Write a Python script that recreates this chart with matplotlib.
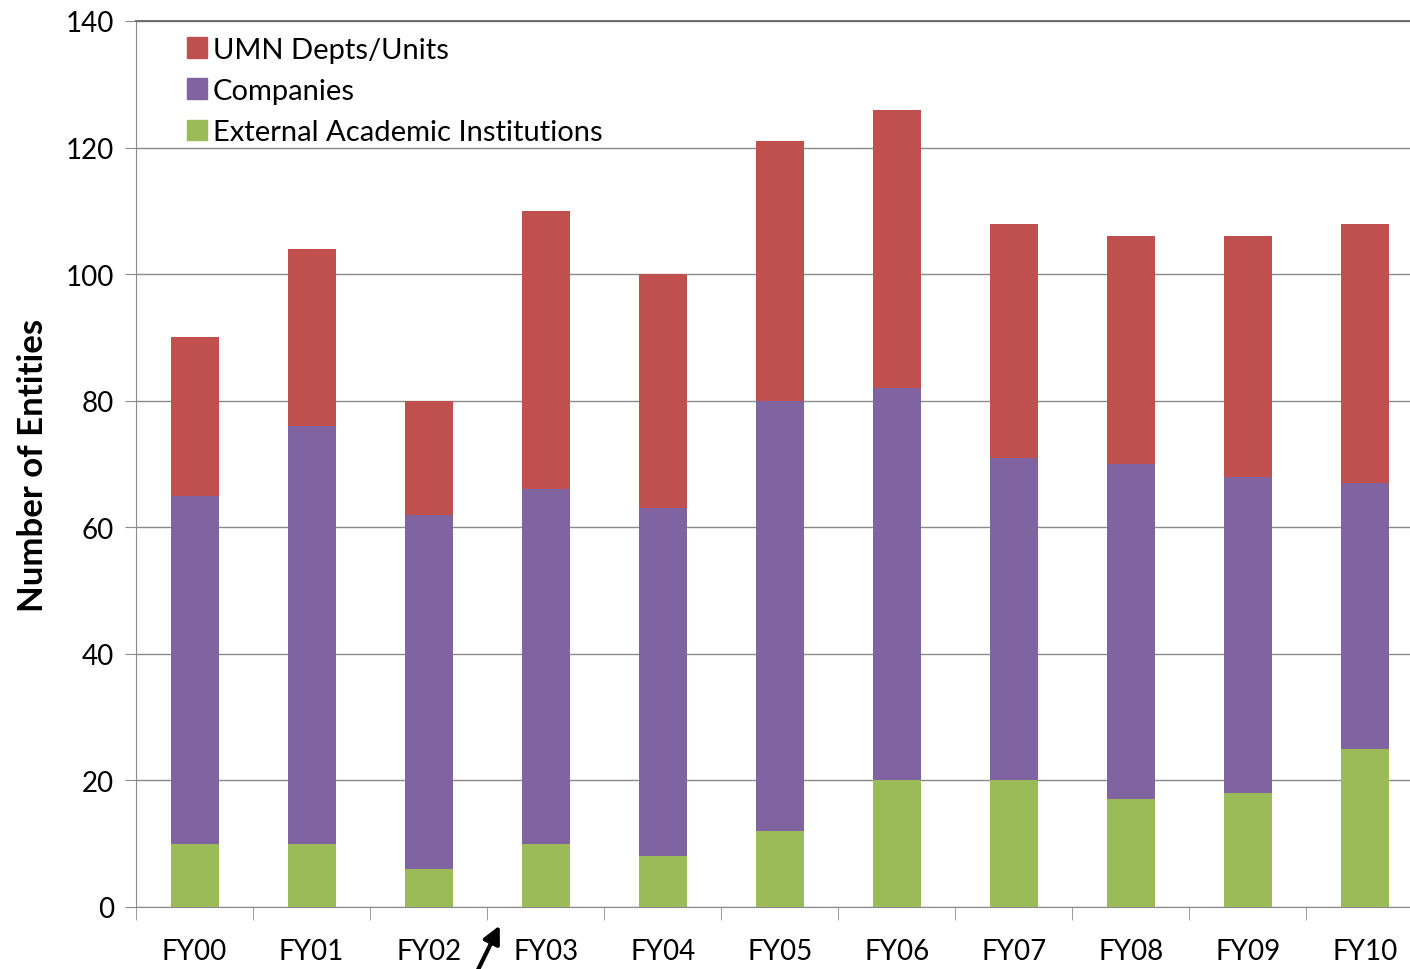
import matplotlib
matplotlib.use("Agg")
import matplotlib.pyplot as plt
from matplotlib.patches import Patch
from matplotlib.ticker import FixedLocator, MultipleLocator

years = ["FY00", "FY01", "FY02", "FY03", "FY04", "FY05",
         "FY06", "FY07", "FY08", "FY09", "FY10"]
academic = [10, 10, 6, 10, 8, 12, 20, 20, 17, 18, 25]
companies = [55, 66, 56, 56, 55, 68, 62, 51, 53, 50, 42]
umn = [25, 28, 18, 44, 37, 41, 44, 37, 36, 38, 41]

series_names = ["UMN Depts/Units", "Companies", "External Academic Institutions"]
colors = {"umn": "#C0504D", "comp": "#8064A2", "acad": "#9BBB59"}

plt.rcParams["font.family"] = ["Lato", "DejaVu Sans"]

fig = plt.figure(figsize=(14.1, 9.7), dpi=100)
ax = fig.add_axes([136 / 1410, 1 - 908 / 970, (1423.5 - 136) / 1410, (908 - 22) / 970])

x = list(range(len(years)))
w = 0.41
bottom2 = [a + c for a, c in zip(academic, companies)]
ax.bar(x, academic, w, color=colors["acad"], zorder=3)
ax.bar(x, companies, w, bottom=academic, color=colors["comp"], zorder=3)
ax.bar(x, umn, w, bottom=bottom2, color=colors["umn"], zorder=3)

ax.set_xlim(-0.5, len(years) - 0.5)
ax.set_ylim(0, 140)
ax.yaxis.set_major_locator(MultipleLocator(20))
ax.grid(axis="y", color="#8a8a8a", lw=1.0, zorder=0)

ax.set_xticks(x)
ax.set_xticklabels(years)
ax.xaxis.set_minor_locator(FixedLocator([i + 0.5 for i in range(-1, len(years))]))
ax.tick_params(axis="x", which="major", length=0, pad=22, labelsize=20)
ax.tick_params(axis="x", which="minor", length=9, color="#8a8a8a", direction="out")
ax.tick_params(axis="y", length=8, color="#8a8a8a", labelsize=20, pad=8)

ax.spines["right"].set_visible(False)
ax.spines["top"].set_color("#6e6e6e")
ax.spines["top"].set_linewidth(1.4)
ax.spines["left"].set_color("#8a8a8a")
ax.spines["bottom"].set_color("#8a8a8a")

ax.set_ylabel("Number of Entities", fontsize=25, fontweight="bold", labelpad=12)

handles = [Patch(color=colors["umn"]), Patch(color=colors["comp"]), Patch(color=colors["acad"])]
ax.legend(handles, series_names, loc="upper left", bbox_to_anchor=(0.019, 1.012),
          frameon=False, fontsize=21, handlelength=0.7, handleheight=0.7,
          handletextpad=0.2, labelspacing=0.52, borderaxespad=0.5)

ax.annotate("", xy=(501 / 1410, 1 - 924 / 970), xycoords="figure fraction",
            xytext=(476 / 1410, -0.005), textcoords="figure fraction",
            arrowprops=dict(arrowstyle="-|>", color="black", lw=3,
                            mutation_scale=26),
            annotation_clip=False)

fig.savefig("out.png", dpi=100)
